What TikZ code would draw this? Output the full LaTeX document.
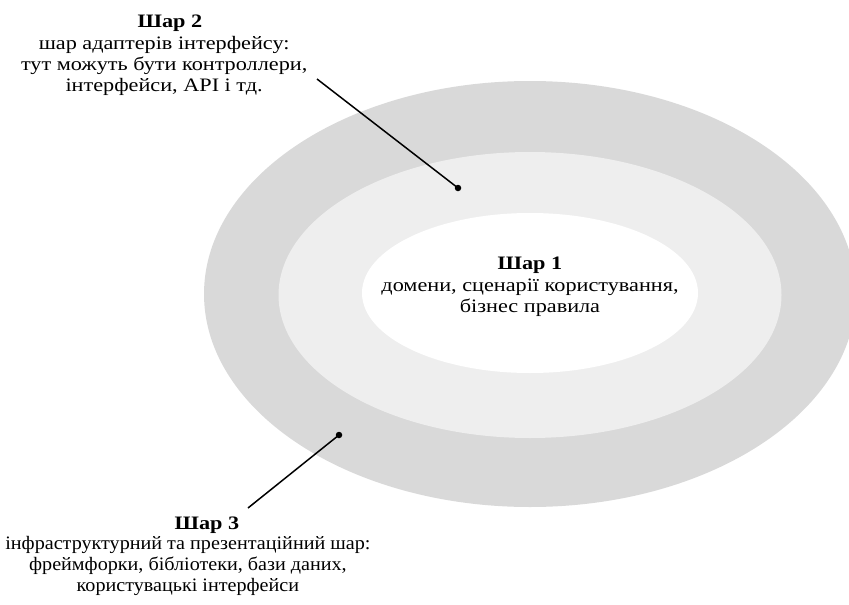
\documentclass[tikz,border=0pt]{standalone}
\usepackage{fontspec}
\setmainfont{Liberation Serif}
\usetikzlibrary{positioning}
\definecolor{layer_outer}{HTML}{D9D9D9}
\definecolor{layer_mid}{HTML}{EEEEEE}
\tikzstyle{line} = [draw, line width=1.5pt]

\begin{document}
\begin{tikzpicture}[x=1pt,y=-1pt,
lbl/.style={align=center,inner sep=0pt,font=\fontsize{19}{21}\selectfont,xscale=1.17},
ttl/.style={lbl,font=\fontsize{19}{21}\selectfont\bfseries},
pin dot/.style={circle,fill=black,inner sep=0pt,minimum size=6.5pt}]
\clip (0,0) rectangle (849,605);
\fill[layer_outer] (530,294) ellipse [x radius=326,y radius=213];
\fill[layer_mid] (530,295) ellipse [x radius=251.5,y radius=143];
\fill[white] (530,293) ellipse [x radius=168,y radius=80];
% layer 1
\node[ttl] (t1) at (530,265) {Шар 1};
\node[lbl,below=5pt of t1] (b1) {домени, сценарії користування,\\бізнес правила};
% layer 2
\node[ttl] (t2) at (170,23) {Шар 2};
\node[lbl,below=4.5pt of t2,xshift=-5pt] (b2) {шар адаптерів інтерфейсу:\\тут можуть бути контроллери,\\інтерфейси, API і тд.};
\node[pin dot] (dot2) at (458,188) {};
\coordinate (c2) at (317,79);
\draw[line] (c2) -- (dot2.center);
% layer 3
\node[ttl] (t3) at (207,525) {Шар 3};
\node[lbl,xscale=1.06/1.17,below=3pt of t3,xshift=-18pt] (b3) {інфраструктурний та презентаційний шар:\\фреймфорки, бібліотеки, бази даних,\\користувацькі інтерфейси};
\node[pin dot] (dot3) at (339,435) {};
\coordinate (c3) at (248,508);
\draw[line] (c3) -- (dot3.center);
\end{tikzpicture}
\end{document}
